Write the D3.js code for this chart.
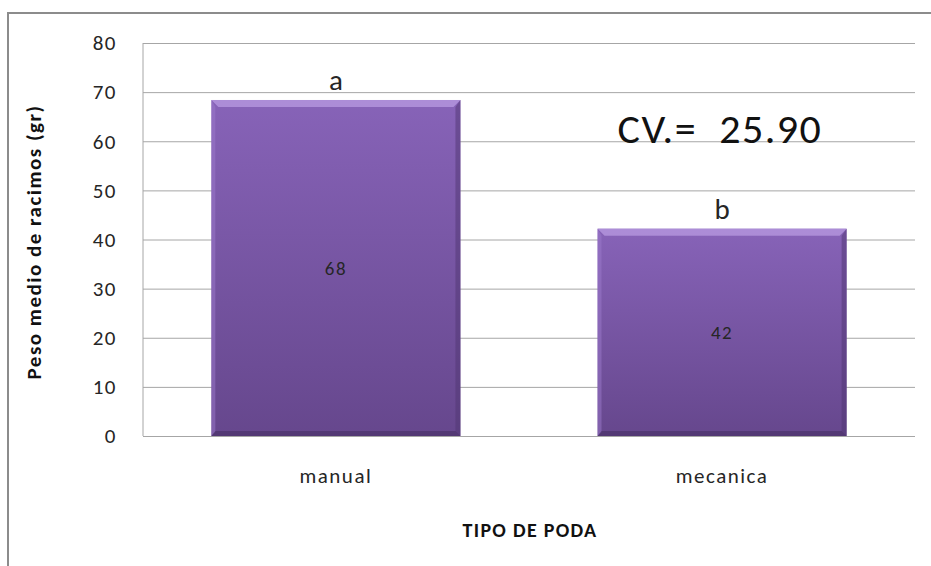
<!DOCTYPE html>
<html>
<head>
  <meta charset="utf-8">
  <title>Peso medio de racimos</title>
  <script src="https://d3js.org/d3.v7.min.js"></script>
  <style>
    body { margin: 0; background: #fff; }
    text { font-family: Carlito, Lato, "Open Sans", sans-serif; fill: #262626; }
    .grid line { stroke: #a6a6a6; stroke-width: 1; }
    .grid .domain { display: none; }
  </style>
</head>
<body>
  <svg id="chart"></svg>
  <script>
    // datos
    var categorias = ["manual", "mecanica"];
    var valores = [68.4, 42.2];
    var etiquetas = ["68", "42"];
    var letras = ["a", "b"];
    var yTicks = [0, 10, 20, 30, 40, 50, 60, 70, 80];
    var cvTexto = "CV.=  25.90";

    var W = 931, H = 566;
    var margin = { top: 43, right: 16, bottom: 130, left: 143 };
    var width = W - margin.left - margin.right,
        height = H - margin.top - margin.bottom;

    var svg = d3.select("#chart").attr("width", W).attr("height", H);

    // borde exterior
    svg.append("rect")
      .attr("x", 8).attr("y", 13)
      .attr("width", W + 10).attr("height", H + 10)
      .attr("fill", "none").attr("stroke", "#8c8c8c").attr("stroke-width", 2);

    var defs = svg.append("defs");
    var grad = defs.append("linearGradient").attr("id", "barGrad")
      .attr("x1", 0).attr("y1", 0).attr("x2", 0).attr("y2", 1);
    grad.append("stop").attr("offset", "0%").attr("stop-color", "#8763b8");
    grad.append("stop").attr("offset", "100%").attr("stop-color", "#66478d");

    var chart = svg.append("g")
      .attr("transform", "translate(" + margin.left + "," + margin.top + ")");

    var x = d3.scaleBand().domain(categorias).range([0, width]).paddingInner(0.355).paddingOuter(0.177);
    var y = d3.scaleLinear().domain([0, 80]).range([height, 0]);

    // lineas de cuadricula
    chart.append("g").attr("class", "grid")
      .call(d3.axisLeft(y).tickValues(yTicks).tickSize(-width).tickFormat(""));
    chart.append("line")
      .attr("x1", 0).attr("x2", 0).attr("y1", 0).attr("y2", height)
      .attr("stroke", "#a6a6a6");

    // etiquetas del eje Y
    chart.selectAll(".ytick")
      .data(yTicks).enter().append("text")
      .attr("x", -26).attr("y", function (d) { return y(d); })
      .attr("dy", "0.35em").attr("text-anchor", "end")
      .style("font-size", "21px").style("letter-spacing", "1.5px")
      .text(function (d) { return d; });

    // barras
    var bars = chart.selectAll(".bar").data(valores).enter().append("g");
    bars.append("rect")
      .attr("x", function (d, i) { return x(categorias[i]); })
      .attr("y", function (d) { return y(d); })
      .attr("width", x.bandwidth())
      .attr("height", function (d) { return height - y(d); })
      .attr("fill", "url(#barGrad)");
    // bisel superior
    bars.append("path")
      .attr("d", function (d, i) {
        var x0 = x(categorias[i]), x1 = x0 + x.bandwidth(), y0 = y(d), b = 7;
        return "M" + x0 + "," + y0 + "L" + x1 + "," + y0 + "L" + (x1 - b) + "," + (y0 + b) + "L" + (x0 + b) + "," + (y0 + b) + "Z";
      })
      .attr("fill", "#b597df").attr("opacity", 0.8);
    // bisel derecho
    bars.append("path")
      .attr("d", function (d, i) {
        var x0 = x(categorias[i]), x1 = x0 + x.bandwidth(), y0 = y(d), b = 5;
        return "M" + x1 + "," + y0 + "L" + x1 + "," + height + "L" + (x1 - b) + "," + (height - b) + "L" + (x1 - b) + "," + (y0 + 7) + "Z";
      })
      .attr("fill", "#4f3572").attr("opacity", 0.5);
    // bisel izquierdo
    bars.append("path")
      .attr("d", function (d, i) {
        var x0 = x(categorias[i]), y0 = y(d), b = 4;
        return "M" + x0 + "," + y0 + "L" + (x0 + b) + "," + (y0 + 7) + "L" + (x0 + b) + "," + (height - b) + "L" + x0 + "," + height + "Z";
      })
      .attr("fill", "#9b7acb").attr("opacity", 0.5);
    // bisel inferior
    bars.append("path")
      .attr("d", function (d, i) {
        var x0 = x(categorias[i]), x1 = x0 + x.bandwidth(), b = 5;
        return "M" + x0 + "," + height + "L" + x1 + "," + height + "L" + (x1 - b) + "," + (height - b) + "L" + (x0 + 4) + "," + (height - b) + "Z";
      })
      .attr("fill", "#3f2a5c").attr("opacity", 0.5);

    // valores dentro de las barras
    bars.append("text")
      .attr("x", function (d, i) { return x(categorias[i]) + x.bandwidth() / 2; })
      .attr("y", function (d) { return y(d / 2); })
      .attr("dy", "0.35em").attr("text-anchor", "middle")
      .style("font-size", "19px").style("letter-spacing", "1.5px")
      .text(function (d, i) { return etiquetas[i]; });

    // letras de significancia
    bars.append("text")
      .attr("x", function (d, i) { return x(categorias[i]) + x.bandwidth() / 2; })
      .attr("y", function (d) { return y(d) - 10; })
      .attr("text-anchor", "middle")
      .style("font-size", "29px")
      .text(function (d, i) { return letras[i]; });

    // categorias
    chart.selectAll(".xlab").data(categorias).enter().append("text")
      .attr("x", function (d) { return x(d) + x.bandwidth() / 2; })
      .attr("y", height + 40)
      .attr("dy", "0.35em").attr("text-anchor", "middle")
      .style("font-size", "21px").style("letter-spacing", "1.5px")
      .text(function (d) { return d; });

    // CV
    chart.append("text")
      .attr("x", 577).attr("y", 100)
      .attr("text-anchor", "middle")
      .style("font-size", "42px").style("letter-spacing", "1.5px").style("fill", "#111")
      .style("white-space", "pre")
      .text(cvTexto);

    // titulos de ejes
    svg.append("text")
      .attr("x", 530).attr("y", 530)
      .attr("dy", "0.35em").attr("text-anchor", "middle")
      .style("font-size", "20px").style("letter-spacing", "1.3px")
      .style("font-weight", "bold").style("fill", "#111")
      .text("TIPO DE PODA");
    svg.append("text")
      .attr("transform", "translate(34,242) rotate(-90)")
      .attr("dy", "0.35em").attr("text-anchor", "middle")
      .style("font-size", "21px").style("letter-spacing", "1.5px")
      .style("font-weight", "bold").style("fill", "#111")
      .text("Peso medio de racimos (gr)");
  </script>
</body>
</html>
